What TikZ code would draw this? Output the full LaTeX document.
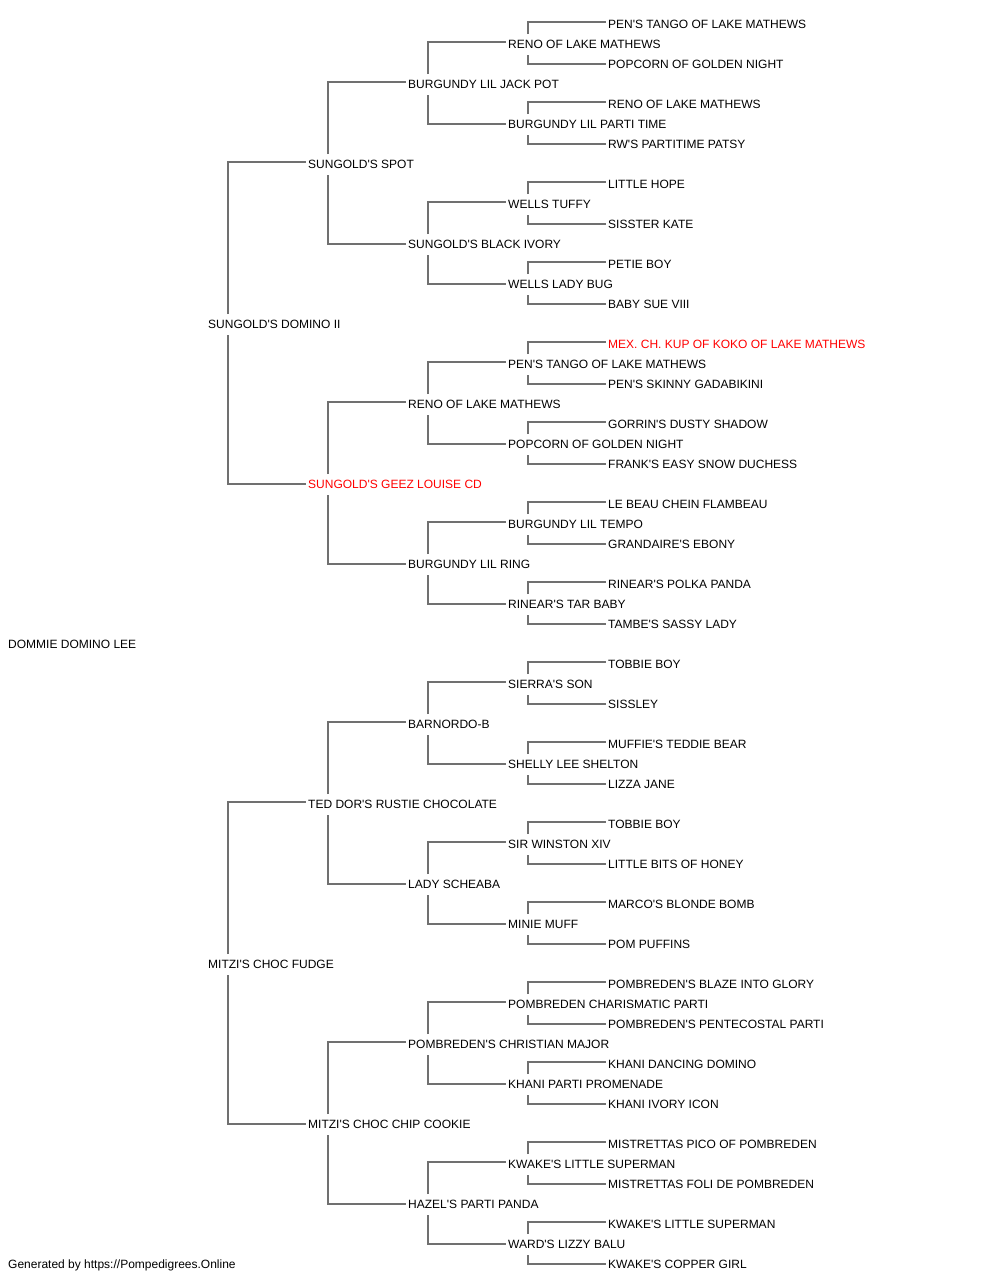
\documentclass[tikz,border=0pt]{standalone}
\usepackage{fontspec}
\newfontfamily\pedfont{Liberation Sans}
\usetikzlibrary{calc}
\definecolor{linegray}{HTML}{707070}
\definecolor{pedred}{HTML}{FF0000}
\tikzset{
  ped/.style={anchor=base west, inner sep=0pt, font=\pedfont\fontsize{12pt}{14pt}\selectfont, text=black},
  redped/.style={ped, text=pedred},
  conn/.style={draw=linegray, line width=1.4pt}
}
% \pedlink{parent}{upper child}{lower child}
\newcommand{\pedlink}[3]{%
  \draw[conn] ($(#1.base west)+(20,-14)$) |- ($(#2.base west)+(-2,-6)$);
  \draw[conn] ($(#1.base west)+(20,7)$) |- ($(#3.base west)+(-2,-4)$);
}
\begin{document}
\begin{tikzpicture}[x=1pt,y=-1pt]
\useasboundingbox (0,0) rectangle (1000,1280);
% generation 0
\node[ped] (a) at (8,648) {DOMMIE DOMINO LEE};
% generation 1
\node[ped] (b0) at (208,328) {SUNGOLD'S DOMINO II};
\node[ped] (b1) at (208,968) {MITZI'S CHOC FUDGE};
% generation 2
\node[ped] (c0) at (308,168) {SUNGOLD'S SPOT};
\node[redped] (c1) at (308,488) {SUNGOLD'S GEEZ LOUISE CD};
\node[ped] (c2) at (308,808) {TED DOR'S RUSTIE CHOCOLATE};
\node[ped] (c3) at (308,1128) {MITZI'S CHOC CHIP COOKIE};
% generation 3
\node[ped] (d0) at (408,88) {BURGUNDY LIL JACK POT};
\node[ped] (d1) at (408,248) {SUNGOLD'S BLACK IVORY};
\node[ped] (d2) at (408,408) {RENO OF LAKE MATHEWS};
\node[ped] (d3) at (408,568) {BURGUNDY LIL RING};
\node[ped] (d4) at (408,728) {BARNORDO-B};
\node[ped] (d5) at (408,888) {LADY SCHEABA};
\node[ped] (d6) at (408,1048) {POMBREDEN'S CHRISTIAN MAJOR};
\node[ped] (d7) at (408,1208) {HAZEL'S PARTI PANDA};
% generation 4
\node[ped] (e0) at (508,48) {RENO OF LAKE MATHEWS};
\node[ped] (e1) at (508,128) {BURGUNDY LIL PARTI TIME};
\node[ped] (e2) at (508,208) {WELLS TUFFY};
\node[ped] (e3) at (508,288) {WELLS LADY BUG};
\node[ped] (e4) at (508,368) {PEN'S TANGO OF LAKE MATHEWS};
\node[ped] (e5) at (508,448) {POPCORN OF GOLDEN NIGHT};
\node[ped] (e6) at (508,528) {BURGUNDY LIL TEMPO};
\node[ped] (e7) at (508,608) {RINEAR'S TAR BABY};
\node[ped] (e8) at (508,688) {SIERRA'S SON};
\node[ped] (e9) at (508,768) {SHELLY LEE SHELTON};
\node[ped] (e10) at (508,848) {SIR WINSTON XIV};
\node[ped] (e11) at (508,928) {MINIE MUFF};
\node[ped] (e12) at (508,1008) {POMBREDEN CHARISMATIC PARTI};
\node[ped] (e13) at (508,1088) {KHANI PARTI PROMENADE};
\node[ped] (e14) at (508,1168) {KWAKE'S LITTLE SUPERMAN};
\node[ped] (e15) at (508,1248) {WARD'S LIZZY BALU};
% generation 5
\node[ped] (f0) at (608,28) {PEN'S TANGO OF LAKE MATHEWS};
\node[ped] (f1) at (608,68) {POPCORN OF GOLDEN NIGHT};
\node[ped] (f2) at (608,108) {RENO OF LAKE MATHEWS};
\node[ped] (f3) at (608,148) {RW'S PARTITIME PATSY};
\node[ped] (f4) at (608,188) {LITTLE HOPE};
\node[ped] (f5) at (608,228) {SISSTER KATE};
\node[ped] (f6) at (608,268) {PETIE BOY};
\node[ped] (f7) at (608,308) {BABY SUE VIII};
\node[redped] (f8) at (608,348) {MEX. CH. KUP OF KOKO OF LAKE MATHEWS};
\node[ped] (f9) at (608,388) {PEN'S SKINNY GADABIKINI};
\node[ped] (f10) at (608,428) {GORRIN'S DUSTY SHADOW};
\node[ped] (f11) at (608,468) {FRANK'S EASY SNOW DUCHESS};
\node[ped] (f12) at (608,508) {LE BEAU CHEIN FLAMBEAU};
\node[ped] (f13) at (608,548) {GRANDAIRE'S EBONY};
\node[ped] (f14) at (608,588) {RINEAR'S POLKA PANDA};
\node[ped] (f15) at (608,628) {TAMBE'S SASSY LADY};
\node[ped] (f16) at (608,668) {TOBBIE BOY};
\node[ped] (f17) at (608,708) {SISSLEY};
\node[ped] (f18) at (608,748) {MUFFIE'S TEDDIE BEAR};
\node[ped] (f19) at (608,788) {LIZZA JANE};
\node[ped] (f20) at (608,828) {TOBBIE BOY};
\node[ped] (f21) at (608,868) {LITTLE BITS OF HONEY};
\node[ped] (f22) at (608,908) {MARCO'S BLONDE BOMB};
\node[ped] (f23) at (608,948) {POM PUFFINS};
\node[ped] (f24) at (608,988) {POMBREDEN'S BLAZE INTO GLORY};
\node[ped] (f25) at (608,1028) {POMBREDEN'S PENTECOSTAL PARTI};
\node[ped] (f26) at (608,1068) {KHANI DANCING DOMINO};
\node[ped] (f27) at (608,1108) {KHANI IVORY ICON};
\node[ped] (f28) at (608,1148) {MISTRETTAS PICO OF POMBREDEN};
\node[ped] (f29) at (608,1188) {MISTRETTAS FOLI DE POMBREDEN};
\node[ped] (f30) at (608,1228) {KWAKE'S LITTLE SUPERMAN};
\node[ped] (f31) at (608,1268) {KWAKE'S COPPER GIRL};
% footer
\node[ped] (foot) at (8,1268) {Generated by https://Pompedigrees.Online};
% connectors
\pedlink{b0}{c0}{c1}
\pedlink{b1}{c2}{c3}
\pedlink{c0}{d0}{d1}
\pedlink{c1}{d2}{d3}
\pedlink{c2}{d4}{d5}
\pedlink{c3}{d6}{d7}
\pedlink{d0}{e0}{e1}
\pedlink{d1}{e2}{e3}
\pedlink{d2}{e4}{e5}
\pedlink{d3}{e6}{e7}
\pedlink{d4}{e8}{e9}
\pedlink{d5}{e10}{e11}
\pedlink{d6}{e12}{e13}
\pedlink{d7}{e14}{e15}
\pedlink{e0}{f0}{f1}
\pedlink{e1}{f2}{f3}
\pedlink{e2}{f4}{f5}
\pedlink{e3}{f6}{f7}
\pedlink{e4}{f8}{f9}
\pedlink{e5}{f10}{f11}
\pedlink{e6}{f12}{f13}
\pedlink{e7}{f14}{f15}
\pedlink{e8}{f16}{f17}
\pedlink{e9}{f18}{f19}
\pedlink{e10}{f20}{f21}
\pedlink{e11}{f22}{f23}
\pedlink{e12}{f24}{f25}
\pedlink{e13}{f26}{f27}
\pedlink{e14}{f28}{f29}
\pedlink{e15}{f30}{f31}
\end{tikzpicture}
\end{document}
